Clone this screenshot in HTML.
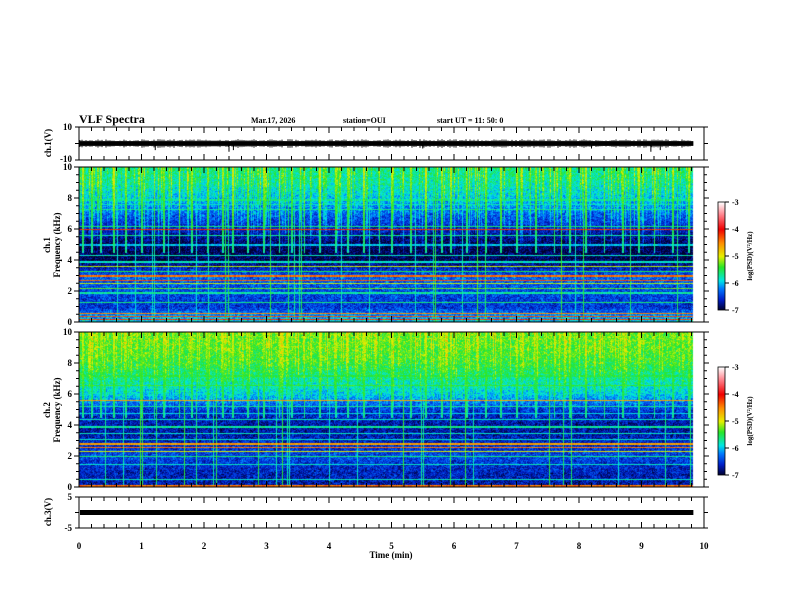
<!DOCTYPE html>
<html><head><meta charset="utf-8">
<style>
html,body{margin:0;padding:0;background:#fff;}
#root{position:relative;width:792px;height:612px;overflow:hidden;font-family:"Liberation Serif",serif;font-weight:bold;color:#000;}
svg text{font-family:"Liberation Serif",serif;font-weight:bold;}
canvas{position:absolute;}
</style></head>
<body>
<div id="root">
<canvas id="spec1" style="left:79px;top:167px" width="625" height="155"></canvas>
<canvas id="spec2" style="left:79px;top:332px" width="625" height="155"></canvas>
<canvas id="cb1" style="left:718px;top:202px" width="7" height="108"></canvas>
<canvas id="cb2" style="left:718px;top:367px" width="7" height="108"></canvas>
<svg id="ov" width="792" height="612" style="position:absolute;left:0;top:0"></svg>
</div>
<script>
// ---- data ----
const timeTicks=[0,1,2,3,4,5,6,7,8,9,10];
const cbTicks=[-3,-4,-5,-6,-7];
const freqTicks=[0,2,4,6,8,10];
const bandLevel1=[-5.9,-6.5,-6.4,-6.3,-6.9,-6.9,-6.6,-6.3,-6.0,-5.75,-5.65];
const bandLevel2=[-6.7,-6.6,-6.4,-6.6,-6.7,-6.5,-5.95,-5.7,-5.45,-5.35,-5.3];
const lineFreq1=[0.2,0.4,0.6,1.3,1.9,2.2,2.5,2.7,3.0,3.3,3.6,3.9,4.3,5.0,5.6,6.0,6.2,7.3,7.6,7.9];
const lineLev1=[-4.2,-4.3,-4.5,-5.6,-5.7,-5.3,-5.1,-4.3,-4.4,-5.5,-5.1,-5.8,-5.8,-6.0,-5.7,-4.2,-5.6,-5.7,-5.8,-5.7];
const lineFreq2=[0.1,0.5,1.5,2.0,2.3,2.6,2.8,3.1,3.5,3.9,4.4,4.8,5.2,5.6,6.6,7.2];
const lineLev2=[-4.4,-5.8,-5.8,-5.6,-5.0,-4.4,-4.6,-5.8,-5.8,-5.7,-5.8,-5.9,-5.7,-4.6,-5.4,-5.5];
const burstTime=[0.05,0.2,0.35,0.55,0.75,1.0,1.2,1.35,1.6,1.8,2.05,2.3,2.45,2.7,2.95,3.2,3.4,3.6,3.85,4.1,4.3,4.55,4.8,5.0,5.3,5.55,5.8,5.95,6.2,6.5,6.75,7.0,7.3,7.6,7.85,8.1,8.4,8.7,8.95,9.2,9.5,9.75];
const burstAmp=[1.2,0.9,1.0,1.3,1.0,0.8,1.1,0.9,1.4,1.0,0.9,1.1,1.3,0.8,1.0,1.2,0.9,1.1,1.3,1.0,0.9,1.2,1.0,1.1,0.9,1.3,1.0,1.2,0.8,1.0,1.1,1.0,0.9,1.3,1.0,1.1,0.9,1.0,1.2,1.1,0.9,1.0];
const spikeTime=[1.22,2.4,2.47,5.5,8.2,9.15,9.3];
const spikeAmp=[-4,-5,-4,-3,-3,-5,-4];
const ch3Level=0;
const tEnd=9.83;

// ---- axes ----
const X0=79,X1=704;
const xs=t=>X0+(X1-X0)*t/10;
const cmapStops=[[-7,[0,0,40]],[-6.6,[0,30,200]],[-6.2,[0,120,255]],[-5.9,[0,230,230]],[-5.4,[40,230,40]],[-5.0,[230,240,0]],[-4.5,[255,140,0]],[-4.0,[240,0,0]],[-3.5,[255,120,130]],[-3,[255,255,255]]];
function cmap(v){
 if(v<=-7)return cmapStops[0][1];if(v>=-3)return [255,255,255];
 for(let i=1;i<cmapStops.length;i++){if(v<=cmapStops[i][0]){const a=cmapStops[i-1],b=cmapStops[i],f=(v-a[0])/(b[0]-a[0]);return a[1].map((c,k)=>Math.round(c+(b[1][k]-c)*f));}}
}
function hash(a,b){let h=(a*374761393+b*668265263)|0;h=(h^(h>>>13))*1274126177|0;return ((h^(h>>>16))>>>0)/4294967296;}
function drawSpec(id,bands,lf,ll,seed,bfreqMin,sk){
 const c=document.getElementById(id),g=c.getContext('2d');const W=c.width,H=c.height;
 const img=g.createImageData(W,H);
 const wEnd=Math.round((X1-X0)*tEnd/10);
 for(let x=0;x<W;x++){
  const colStr=hash(x*5+seed,3);
  const colLow=bfreqMin-3*hash(x*7+seed,9);
  for(let y=0;y<H;y++){
   const i=(y*W+x)*4;
   if(x>=wEnd){img.data[i]=255;img.data[i+1]=255;img.data[i+2]=255;img.data[i+3]=255;continue;}
   const f=10*(1-y/H);const fi=Math.min(9,Math.floor(f)),ff=f-fi;
   let v=bands[fi]+(bands[fi+1]-bands[fi])*ff;
   v+= (hash(x+seed,y)-0.5)*0.5 + (hash(Math.floor(x/3)+seed*7,Math.floor(y/2))-0.5)*0.25;
   if(colStr>0.6&&f>colLow){v+= (colStr-0.6)*sk*Math.min(1,(f-colLow)/2);}
   for(let k=0;k<lf.length;k++){const yy=H*(1-lf[k]/10);if(Math.abs(y-yy)<0.6)v=Math.max(v,ll[k]+(hash(x,k+seed)-0.5)*0.3);}
   for(let k=0;k<burstTime.length;k++){const bx=(X1-X0)*burstTime[k]/10;const d=Math.abs(x-bx);
     if(d<1&&f>bfreqMin-2){v=Math.max(v,-5.7+0.6*burstAmp[k]*(f-bfreqMin+2)/(12-bfreqMin)+(hash(x,y+k)-0.5)*0.3);} }
   if(hash(x*3+seed,11)>0.965) v=Math.max(v,-5.9+(hash(x,seed)*0.5)+(hash(x,y)-0.5)*0.3);
   const col=cmap(v);img.data[i]=col[0];img.data[i+1]=col[1];img.data[i+2]=col[2];img.data[i+3]=255;
  }
 }
 g.putImageData(img,0,0);
}
drawSpec('spec1',bandLevel1,lineFreq1,lineLev1,17,6.5,1.6);
drawSpec('spec2',bandLevel2,lineFreq2,lineLev2,53,6.5,1.0);
['cb1','cb2'].forEach(id=>{const c=document.getElementById(id),g=c.getContext('2d');for(let y=0;y<c.height;y++){const v=-3-4*y/c.height;const col=cmap(v);g.fillStyle=`rgb(${col})`;g.fillRect(0,y,c.width,1);}});

// ---- SVG overlay ----
const NS='http://www.w3.org/2000/svg',ov=document.getElementById('ov');
function el(tag,attrs,txt){const e=document.createElementNS(NS,tag);for(const k in attrs)e.setAttribute(k,attrs[k]);if(txt!==undefined)e.textContent=txt;ov.appendChild(e);return e;}
function tx(x,y,s,size,anchor,rot,name){const e=el('text',{x:x,y:y,'font-size':size,'text-anchor':anchor||'start',transform:rot?`rotate(-90 ${x} ${y})`:''},s);
 
 return e;}
const panels=[{t:127,b:160},{t:167,b:322},{t:332,b:487},{t:497,b:528}];
panels.forEach((p,pi)=>{
 const r=el('rect',{x:X0,y:p.t,width:X1-X0,height:p.b-p.t,fill:'none',stroke:'#000','stroke-width':1});
 
 
 for(let m=0;m<=50;m++){const t=m/5,x=xs(t),len=(m%5===0)?6:4;
  el('line',{x1:x,x2:x,y1:p.t,y2:p.t+len,stroke:'#000'});el('line',{x1:x,x2:x,y1:p.b,y2:p.b-len,stroke:'#000'});}
});
function yTicksPanel(p,n){for(let k=0;k<=n;k++){const y=p.t+(p.b-p.t)*k/n;el('line',{x1:X0-4,x2:X0,y1:y,y2:y,stroke:'#000'});el('line',{x1:X1,x2:X1+4,y1:y,y2:y,stroke:'#000'});}}
yTicksPanel(panels[0],2);yTicksPanel(panels[3],2);
[1,2].forEach(pi=>{const p=panels[pi];for(let k=0;k<=20;k++){const y=p.b-(p.b-p.t)*k/20;const L=k%4===0?5:3;el('line',{x1:X0-L,x2:X0,y1:y,y2:y,stroke:'#000'});el('line',{x1:X1,x2:X1+L,y1:y,y2:y,stroke:'#000'});}
 freqTicks.forEach(f=>tx(X0-7,p.b-(p.b-p.t)*f/10+3,String(f),9,'end',false,'freq-tick-label'));});
tx(X0-7,130,'10',9,'end',false,'ch1-tick-label');tx(X0-7,162,'-10',9,'end',false,'ch1-tick-label');
tx(X0-7,500,'5',9,'end',false,'ch3-tick-label');tx(X0-7,531,'-5',9,'end',false,'ch3-tick-label');
const wy=v=>143.5-v*16.5/10;
let d='';const wEndX=xs(tEnd);
el('rect',{x:X0+1,y:wy(1.4),width:wEndX-X0-1,height:wy(-1.4)-wy(1.4),fill:'#000'});
for(let x=X0+1;x<wEndX;x+=2){const a=1.4+1.2*hash(x,5);d+=`M${x},${wy(a)}V${wy(-a)}`;}
spikeTime.forEach((t,k)=>{d+=`M${xs(t)},${wy(0)}V${wy(spikeAmp[k])}`;});
el('path',{d:d,stroke:'#000','stroke-width':1,fill:'none'});
const w3=v=>512.5-v*15.5/5;
el('rect',{x:X0+1,y:w3(ch3Level)-2.5,width:wEndX-X0-1,height:5,fill:'#000'});
timeTicks.forEach(t=>tx(xs(t),549,String(t),9,'middle',false,'time-tick-label'));
tx(391,558,'Time  (min)',9,'middle',false,'x-axis-title');
tx(79,123,'VLF Spectra',12,'start',false,'chart-title');
tx(251,123,'Mar.17, 2026',8,'start',false,'date-label');
tx(343,123,'station=OUI',8,'start',false,'station-label');
tx(437,123,'start  UT  =   11: 50: 0',8,'start',false,'start-time-label');
tx(51,143,'ch.1(V)',9,'middle',true,'ch1-y-title');
tx(50,245,'ch.1',9,'middle',true,'ch1-spec-title');tx(60,245,'Frequency  (kHz)',9,'middle',true,'ch1-freq-title');
tx(50,410,'ch.2',9,'middle',true,'ch2-spec-title');tx(60,410,'Frequency  (kHz)',9,'middle',true,'ch2-freq-title');
tx(51,512,'ch.3(V)',9,'middle',true,'ch3-y-title');
[202,367].forEach((top,ci)=>{el('rect',{x:718,y:top,width:7,height:108,fill:'none',stroke:'#000','stroke-width':0.8});
 cbTicks.forEach((v,k)=>{const y=top+108*k/4;el('line',{x1:725,x2:729,y1:y,y2:y,stroke:'#000'});tx(732,y+3,String(v),8,'start',false,'colorbar-tick-label');});
 tx(752,top+54,'log(PSD)(V²/Hz)',7,'middle',true,'colorbar-title');});
</script>
</body></html>
